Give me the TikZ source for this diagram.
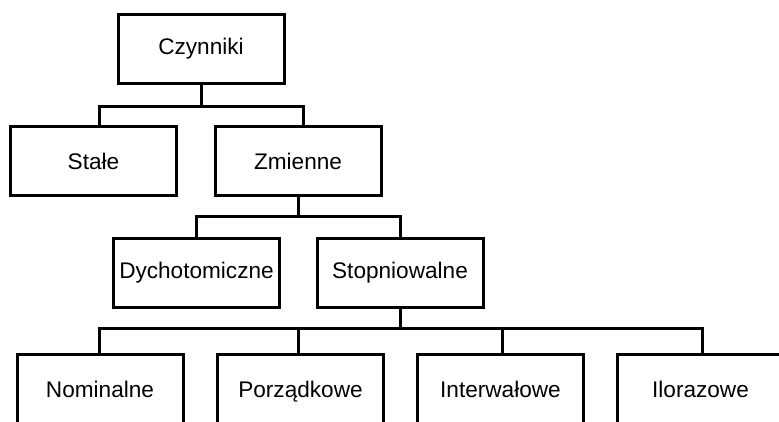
\documentclass[tikz,border=0pt]{standalone}
\usepackage{fontspec}
\setmainfont{Liberation Sans}
\begin{document}
\begin{tikzpicture}[x=1pt,y=-1pt,
  box/.style={draw=black,line width=3pt,minimum width=166pt,minimum height=69pt,inner sep=0pt,font=\fontsize{22.6}{26}\selectfont},
  lowbox/.style={box,anchor=north,text height=43.5pt,text depth=40pt},
  conn/.style={draw=black,line width=3pt}]
\useasboundingbox (0,0) rectangle (779,421);
\clip (0,0) rectangle (779,421);
\node[box] (cz) at (201,48.5) {Czynniki};
\node[box] (st) at (93.5,161) {Stałe};
\node[box] (zm) at (298,161) {Zmienne};
\node[box] (dy) at (196.5,273) {Dychotomiczne};
\node[box] (sp) at (400,273) {Stopniowalne};
\node[lowbox] (no) at (100,352.5) {Nominalne};
\node[lowbox] (po) at (300.5,352.5) {Porządkowe};
\node[lowbox] (in) at (500.5,352.5) {Interwałowe};
\node[lowbox] (il) at (700.5,352.5) {Ilorazowe};
\coordinate (b1) at (0,106);
\coordinate (b2) at (0,216);
\coordinate (b3) at (0,328);
% level 1
\draw[conn] (cz.south) -- (cz.south |- b1);
\draw[conn] ([xshift=5.5pt]st.north) -- ([xshift=5.5pt]st.north |- b1) -- ([xshift=5pt]zm.north |- b1) -- ([xshift=5pt]zm.north);
% level 2
\draw[conn] (zm.south) -- (zm.south |- b2);
\draw[conn] (dy.north) -- (dy.north |- b2) -- (sp.north |- b2) -- (sp.north);
% level 3
\draw[conn] (sp.south) -- (sp.south |- b3);
\draw[conn] ([xshift=-1pt]no.north) -- ([xshift=-1pt]no.north |- b3) -- ([xshift=1.5pt]il.north |- b3) -- ([xshift=1.5pt]il.north);
\draw[conn] ([xshift=-2pt]po.north) -- ([xshift=-2pt]po.north |- b3);
\draw[conn] ([xshift=1.5pt]in.north) -- ([xshift=1.5pt]in.north |- b3);
\end{tikzpicture}
\end{document}
